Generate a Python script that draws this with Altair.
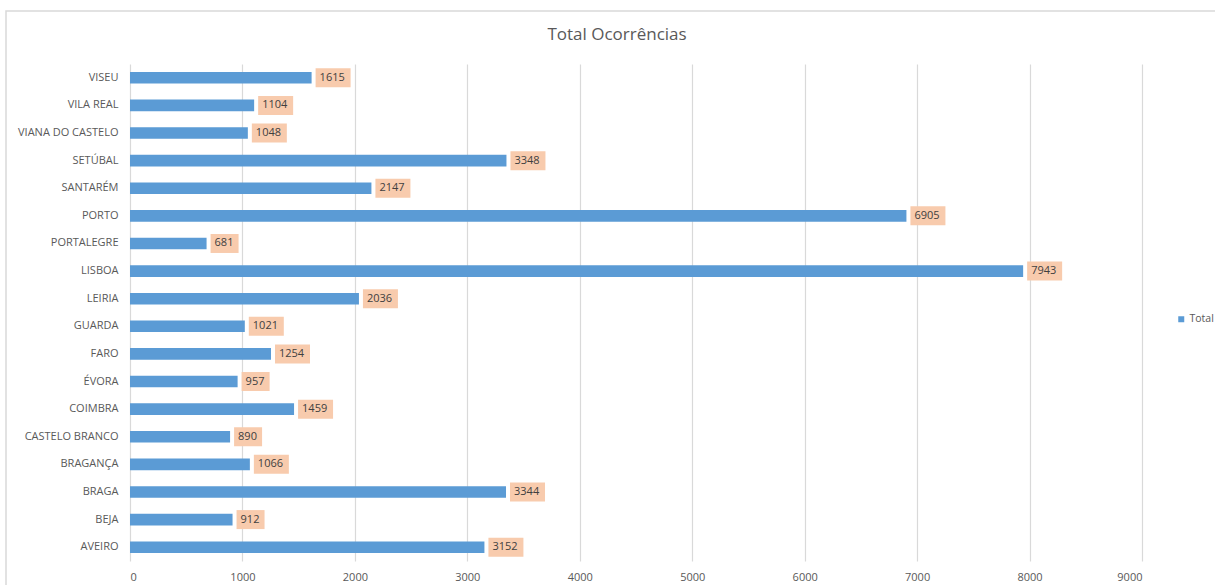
import altair as alt
import pandas as pd

# Occurrences per district (top row first)
districts = [
    "VISEU", "VILA REAL", "VIANA DO CASTELO", "SETÚBAL", "SANTARÉM", "PORTO",
    "PORTALEGRE", "LISBOA", "LEIRIA", "GUARDA", "FARO", "ÉVORA", "COIMBRA",
    "CASTELO BRANCO", "BRAGANÇA", "BRAGA", "BEJA", "AVEIRO",
]
totals = [
    1615, 1104, 1048, 3348, 2147, 6905,
    681, 7943, 2036, 1021, 1254, 957, 1459,
    890, 1066, 3344, 912, 3152,
]
series_name = "Total"
chart_title = "Total Ocorrências"
x_ticks = [0, 1000, 2000, 3000, 4000, 5000, 6000, 7000, 8000, 9000]

df = pd.DataFrame({"distrito": districts, "total": totals, "serie": series_name})

FONT = "Open Sans"
GREY = "#595959"
W, H = 1012, 497

y_enc = alt.Y(
    "distrito:N",
    sort=districts,
    title=None,
    scale=alt.Scale(paddingInner=0.58, paddingOuter=0.29),
    axis=alt.Axis(
        ticks=False, domain=False, labelPadding=12, labelFontSize=11,
        labelColor=GREY, labelFont=FONT, grid=False,
    ),
)
x_enc = alt.X(
    "total:Q",
    title=None,
    scale=alt.Scale(domain=[0, 9000], nice=False),
    axis=alt.Axis(
        values=x_ticks, format="d", domain=False, ticks=False, labelPadding=10,
        labelFontSize=11, labelColor=GREY, labelFont=FONT,
        grid=True, gridColor="#D9D9D9", gridWidth=1.2,
    ),
)

base = alt.Chart(df)

bars = base.mark_bar(color="#5B9BD5").encode(
    y=y_enc,
    x=x_enc,
    color=alt.Color(
        "serie:N",
        scale=alt.Scale(range=["#5B9BD5"]),
        legend=alt.Legend(
            title=None, orient="none", legendX=1046, legendY=250,
            symbolType="square", symbolSize=36, symbolStrokeWidth=0,
            labelFont=FONT, labelFontSize=10.5, labelColor=GREY, labelOffset=3,
        ),
    ),
)

# label boxes behind the value text
box4 = base.transform_filter("datum.total >= 1000").mark_bar(
    color="#F8CBAD", size=19, xOffset=4, x2Offset=39
).encode(y=alt.Y("distrito:N", sort=districts), x="total:Q", x2="total:Q")
box3 = base.transform_filter("datum.total < 1000").mark_bar(
    color="#F8CBAD", size=19, xOffset=4, x2Offset=32
).encode(y=alt.Y("distrito:N", sort=districts), x="total:Q", x2="total:Q")

labels = base.mark_text(
    align="left", baseline="middle", dx=8, font=FONT, fontSize=11, color="#404040"
).encode(
    y=alt.Y("distrito:N", sort=districts),
    x="total:Q",
    text=alt.Text("total:Q", format="d"),
)

single = pd.DataFrame({"t": [chart_title]})

# outer chart frame
frame = alt.Chart(single).mark_rect(
    fill=None, stroke="#D9D9D9", strokeWidth=1.5
).encode(
    x=alt.value(-124), x2=alt.value(W + 120),
    y=alt.value(-53), y2=alt.value(H + 60),
)

# chart heading
heading = alt.Chart(single).mark_text(
    font=FONT, fontSize=17, color=GREY, align="center", baseline="middle"
).encode(text="t:N", x=alt.value(487), y=alt.value(-29))

chart = alt.layer(frame, heading, bars, box4, box3, labels).properties(
    width=W,
    height=H,
    autosize=alt.AutoSizeParams(type="none"),
    padding={"left": 130, "top": 64, "right": 73, "bottom": 24},
).configure(background="white").configure_view(stroke=None)

chart.save("out.html", embed_options={"renderer": "svg", "actions": False})
